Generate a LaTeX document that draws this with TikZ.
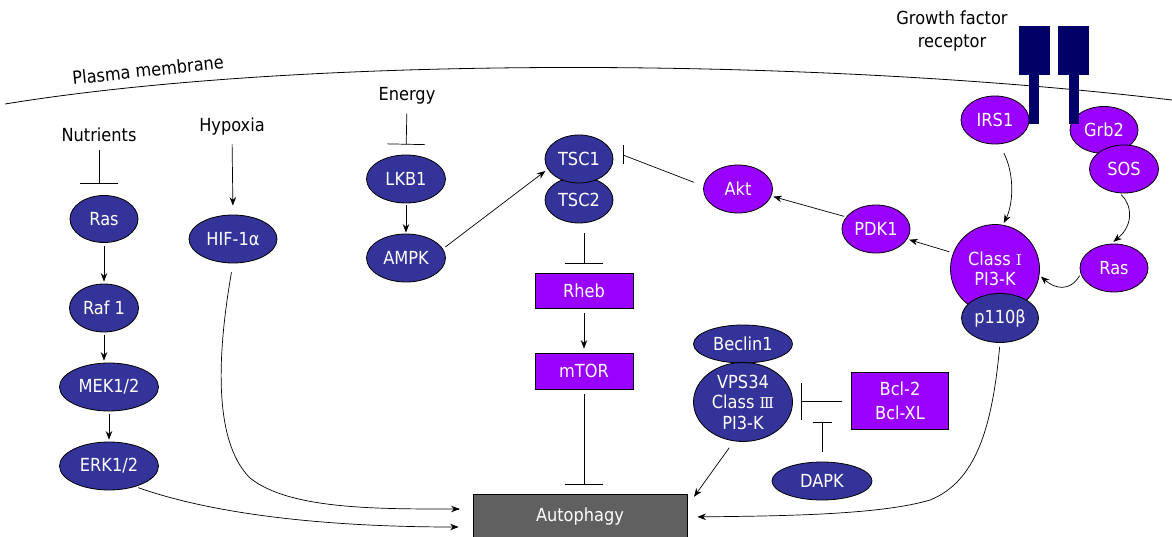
\documentclass[tikz,border=0pt]{standalone}
\usepackage{fontspec}
\setmainfont{DejaVu Sans Condensed}
\newfontfamily\romnum{DejaVu Serif}
\usetikzlibrary{arrows.meta,shapes.geometric}
\definecolor{dblue}{HTML}{333399}
\definecolor{purp}{HTML}{9900FF}
\definecolor{navyr}{HTML}{000066}
\definecolor{agray}{HTML}{606060}
\begin{document}
\begin{tikzpicture}[x=1pt,y=-1pt,font=\fontsize{18}{20.5}\selectfont,
  ell/.style={ellipse,draw=black,line width=0.8pt,text=white,inner sep=0pt,align=center},
  bl/.style={ell,fill=dblue},
  pu/.style={ell,fill=purp},
  pbox/.style={rectangle,draw=black,line width=0.8pt,fill=purp,text=white,inner sep=0pt,align=center},
  lbl/.style={inner sep=0pt,align=center},
  arr/.style={-{Stealth[length=8.5pt,width=6.5pt]},line width=0.7pt},
  inh/.style={-{Bar[width=#1]},line width=0.7pt},
  inh/.default=38pt,
  recp/.style={fill=navyr,draw=none}]
\useasboundingbox (0,0) rectangle (1172,537);
% membrane
\draw[line width=0.8pt] (5,104) .. controls (300,56) and (800,56) .. (1172,100);
\node[lbl,rotate=6] (pm) at (148,70) {Plasma membrane};
% labels
\node[lbl] (nutr) at (99,135) {Nutrients};
\node[lbl] (hyp) at (232,127) {Hypoxia};
\node[lbl] (energy) at (407,96) {Energy};
\node[lbl,align=center] (gfr) at (952,31) {Growth factor\\[3pt]receptor};
% left column
\node[bl,minimum width=68pt,minimum height=47pt] (rasL) at (104,219) {Ras};
\node[bl,minimum width=69pt,minimum height=48pt] (raf) at (104,308) {Raf 1};
\node[bl,minimum width=99pt,minimum height=48pt] (mek) at (109,387) {MEK1/2};
\node[bl,minimum width=99pt,minimum height=48pt] (erk) at (109,466) {ERK1/2};
\node[bl,minimum width=88pt,minimum height=48pt] (hif) at (233,239) {HIF-1α};
\node[bl,minimum width=79pt,minimum height=48pt] (lkb) at (406,179) {LKB1};
\node[bl,minimum width=79pt,minimum height=48pt] (ampk) at (406,258) {AMPK};
\node[bl,minimum width=68pt,minimum height=46pt] (tsc2) at (579,200) {TSC2};
\node[bl,minimum width=68pt,minimum height=48pt] (tsc1) at (579,159) {TSC1};
\node[pbox,minimum width=98pt,minimum height=35pt] (rheb) at (584,291) {Rheb};
\node[pbox,minimum width=98pt,minimum height=36pt] (mtor) at (584,371) {mTOR};
\node[pu,minimum width=69pt,minimum height=48pt] (akt) at (738,189) {Akt};
\node[pu,minimum width=68pt,minimum height=48pt] (pdk) at (876,229) {PDK1};
\node[pu,minimum width=68pt,minimum height=48pt] (irs) at (995,120) {IRS1};
\node[pu,minimum width=68pt,minimum height=47pt] (grb) at (1104,130) {Grb2};
\node[pu,minimum width=69pt,minimum height=48pt] (sos) at (1124,169) {SOS};
\node[pu,minimum width=68pt,minimum height=48pt] (rasR) at (1114,268) {Ras};
\node[ell,circle,fill=purp,minimum size=89pt] (pi3k) at (995,269) {Class {\romnum\fontsize{15}{16}\selectfont Ⅰ}\\PI3-K};
\node[bl,minimum width=77pt,minimum height=49pt] (p110) at (1000,318) {p110β};
\node[bl,minimum width=99pt,minimum height=38pt] (beclin) at (743,344) {Beclin1};
\node[bl,minimum width=99pt,minimum height=79pt] (vps) at (743,402) {VPS34\\[0pt]Class {\romnum\fontsize{15}{16}\selectfont Ⅲ}\\[0pt]PI3-K};
\node[pbox,minimum width=97pt,minimum height=57pt] (bcl) at (900,401) {Bcl-2\\[3pt]Bcl-XL};
\node[bl,minimum width=100pt,minimum height=38pt] (dapk) at (822,481) {DAPK};
\node[rectangle,draw=black,line width=0.8pt,fill=agray,text=white,minimum width=214pt,minimum height=46pt,inner sep=0pt] (auto) at (580,517) {Autophagy};
% receptor
\fill[recp] (1019,26) rectangle (1050,75);
\fill[recp] (1029,75) rectangle (1039,124);
\fill[recp] (1058,26) rectangle (1089,75);
\fill[recp] (1069,75) rectangle (1079,124);
% coordinates
\coordinate (akbar) at (623,155);
\coordinate (dbar) at (822,422);
% left column connectors
\draw[inh,shorten <=8pt,shorten >=11pt] (nutr.south) -- (nutr.south |- rasL.north);
\draw[arr,shorten <=3pt,shorten >=2pt] (rasL) -- (raf);
\draw[arr,shorten <=3pt,shorten >=2pt] (raf.south) -- (raf.south |- mek.north);
\draw[arr,shorten <=3pt,shorten >=2pt] (mek) -- (erk);
\draw[arr,shorten <=8pt,shorten >=9pt] (hyp.south) -- (hif.north);
\draw[line width=0.7pt,shorten <=9pt] (hif.south) .. controls (218,350) and (212,440) .. (250,478) .. controls (290,510) and (380,509) .. (459,509);
\draw[arr] (459,509) -- ([yshift=8pt,xshift=-13pt]auto.west);
\draw[arr,shorten <=3pt,shorten >=14pt] (erk.-38) .. controls (230,520) and (360,527) .. ([yshift=-10pt]auto.west);
% energy
\draw[inh,shorten <=9pt,shorten >=10pt] (energy.south) -- (lkb.north);
\draw[arr,shorten <=2pt,shorten >=1pt] (lkb) -- (ampk);
\draw[arr,shorten <=3pt,shorten >=3pt] (ampk.14) -- (tsc1.198);
% TSC / mTOR
\draw[inh,shorten <=10pt,shorten >=9pt] (tsc2.south -| rheb.north) -- (rheb.north);
\draw[arr,shorten <=4pt,shorten >=4pt] (rheb) -- (mtor);
\draw[inh,shorten <=5pt,shorten >=9pt] (mtor) -- (auto.north -| mtor.south);
% Akt inhibition
\draw[line width=0.7pt,shorten <=10pt] (akt.175) -- (akbar);
\draw[line width=0.7pt] ([yshift=10pt]akbar) -- ([yshift=-9pt]akbar);
% growth factor pathway
\draw[arr,shorten <=10pt,shorten >=2pt] (irs.-80) .. controls (1015,175) and (1013,205) .. (pi3k.80);
\draw[arr,shorten <=2pt,shorten >=3pt] (sos.-100) .. controls (1132,205) and (1134,225) .. (rasR.97);
\draw[arr,shorten <=2pt,shorten >=2pt] (rasR.190) .. controls (1070,292) and (1055,289) .. (pi3k.-8);
\draw[arr,shorten <=4pt,shorten >=2pt] (pi3k.159) -- (pdk.-18);
\draw[arr,shorten <=2pt,shorten >=2pt] (pdk.158) -- (akt.-12);
\draw[arr,shorten <=4pt,shorten >=10pt] (p110.south) .. controls (992,430) and (975,482) .. (930,500) .. controls (880,515) and (780,516) .. (auto.east);
% Beclin / VPS34
\draw[arr,shorten <=8pt,shorten >=1pt] (vps.257) -- ([xshift=6pt,yshift=-4pt]auto.north east);
\draw[inh=37pt,shorten <=9pt,shorten >=8pt] (bcl.west) -- (bcl.west -| vps.east);
\draw[inh=19pt,shorten <=10pt] (dapk.north) -- (dbar);
\end{tikzpicture}
\end{document}
